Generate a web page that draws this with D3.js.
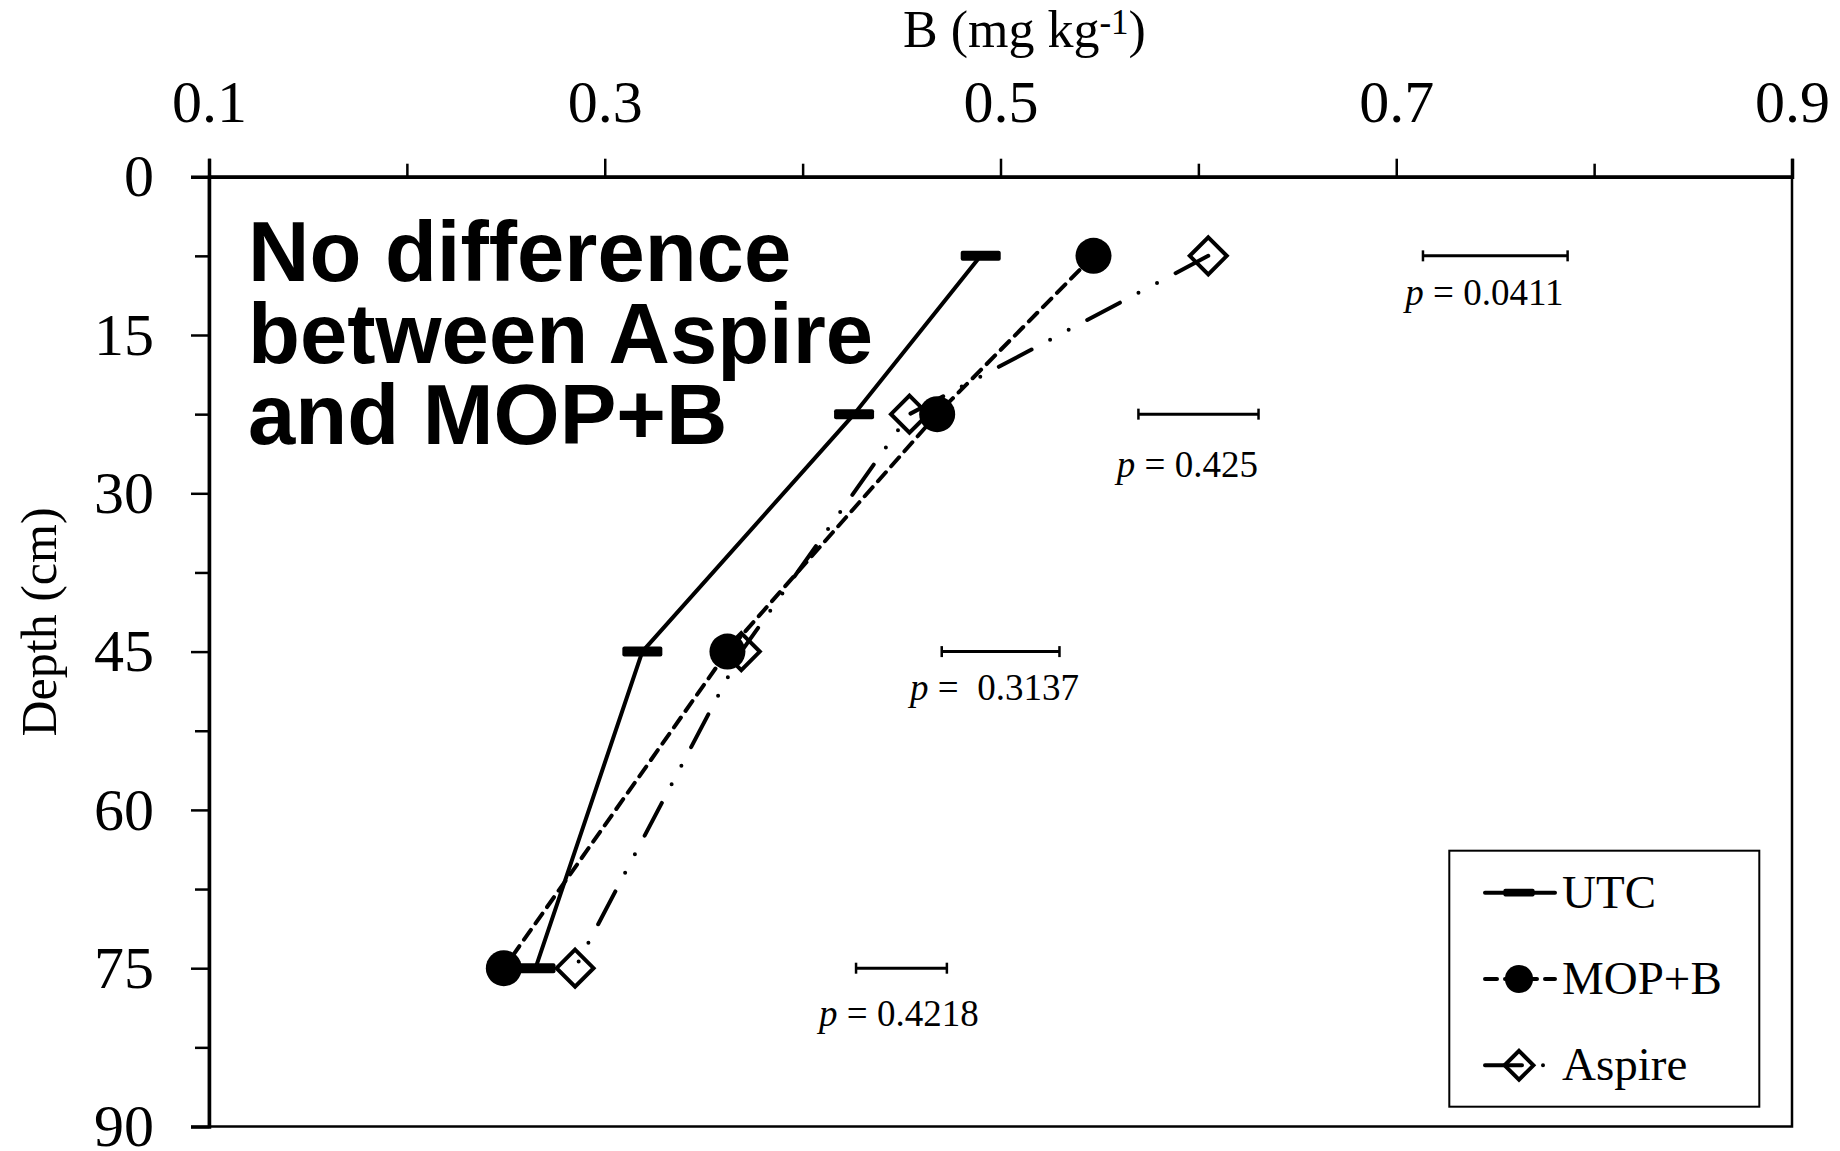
<!DOCTYPE html>
<html>
<head>
<meta charset="utf-8">
<script src="https://cdn.jsdelivr.net/npm/d3@7"></script>
<style>
  body { margin: 0; background: #fff; }
  text { font-family: "Liberation Serif", "Times New Roman", serif; fill: #000; }
</style>
</head>
<body>
<div class="graph"></div>
<script>
// depths sampled (cm) and B concentration per treatment (mg/kg)
const depths = [7.5, 22.5, 45, 75];
const utc = [0.490, 0.426, 0.319, 0.265];
const mopb = [0.547, 0.468, 0.362, 0.249];
const aspire = [0.605, 0.454, 0.369, 0.285];

// LSD-style bars at each depth with their p values
const lsdLow = [0.7135, 0.5697, 0.4703, 0.4270];
const lsdHigh = [0.7866, 0.6304, 0.5298, 0.4729];
const pValues = ["0.0411", "0.425", " 0.3137", "0.4218"];
// where each p label sits (x in mg/kg, depth in cm)
const pLabelX = [0.7046, 0.5588, 0.4543, 0.4083];
const pLabelDepth = [12.15, 28.42, 49.58, 80.46];

const xMajor = [0.1, 0.3, 0.5, 0.7, 0.9];
const xMinor = [0.2, 0.4, 0.6, 0.8];
const yMajor = [0, 15, 30, 45, 60, 75, 90];
const yMinor = [7.5, 22.5, 37.5, 52.5, 67.5, 82.5];

const W = 1840, H = 1151;
const plotL = 209, plotR = 1792, plotT = 176.7, plotB = 1126.5;

const x = d3.scaleLinear().domain([0.1, 0.9]).range([plotL, plotR]);
const y = d3.scaleLinear().domain([0, 90]).range([plotT, plotB]);

const svg = d3.select(".graph").append("svg")
    .attr("width", W)
    .attr("height", H);

// frame
svg.append("rect")
    .attr("x", plotL).attr("y", plotT)
    .attr("width", plotR - plotL).attr("height", plotB - plotT)
    .attr("fill", "none").attr("stroke", "#000").attr("stroke-width", 2.5);

// top axis
const xAxis = svg.append("g")
    .attr("transform", "translate(0," + plotT + ")")
    .call(d3.axisTop(x).tickValues(xMajor).tickFormat(d3.format(".1f")).tickSize(18).tickPadding(37));
svg.append("g")
    .attr("transform", "translate(0," + plotT + ")")
    .call(d3.axisTop(x).tickValues(xMinor).tickFormat("").tickSize(13))
    .select(".domain").remove();
xAxis.selectAll("text").attr("font-size", 60).attr("font-family", "Liberation Serif");

// left axis
const yAxis = svg.append("g")
    .attr("transform", "translate(" + plotL + ",0)")
    .call(d3.axisLeft(y).tickValues(yMajor).tickSize(18).tickPadding(37));
svg.append("g")
    .attr("transform", "translate(" + plotL + ",0)")
    .call(d3.axisLeft(y).tickValues(yMinor).tickFormat("").tickSize(14))
    .select(".domain").remove();
yAxis.selectAll("text").attr("font-size", 60).attr("font-family", "Liberation Serif");

svg.selectAll(".domain").attr("stroke-width", 3.5);
svg.selectAll(".tick line").attr("stroke-width", 2.5);

// axis titles
const title = svg.append("text")
    .attr("x", 903).attr("y", 47)
    .attr("font-size", 52);
title.append("tspan").text("B (mg kg");
title.append("tspan").attr("font-size", 35).attr("dy", -13).text("-1");
title.append("tspan").attr("dy", 13).text(")");

svg.append("text")
    .attr("transform", "translate(56,622) rotate(-90)")
    .attr("text-anchor", "middle")
    .attr("font-size", 50)
    .text("Depth (cm)");

// note
const note = ["No difference", "between Aspire", "and MOP+B"];
svg.selectAll(".note")
    .data(note)
    .enter().append("text")
    .attr("class", "note")
    .attr("x", 248)
    .attr("y", function (d, i) { return 281 + i * 81.5; })
    .attr("font-size", 85)
    .attr("font-weight", "bold")
    .style("font-family", "Liberation Sans, Arial, sans-serif")
    .text(function (d) { return d; });

// LSD bars
const lsd = depths.map(function (d, i) {
    return { depth: d, lo: lsdLow[i], hi: lsdHigh[i], p: pValues[i], lx: pLabelX[i], ld: pLabelDepth[i] };
});
const bars = svg.selectAll(".lsd").data(lsd).enter().append("g").attr("class", "lsd");
bars.append("line")
    .attr("x1", function (d) { return x(d.lo); })
    .attr("x2", function (d) { return x(d.hi); })
    .attr("y1", function (d) { return y(d.depth); })
    .attr("y2", function (d) { return y(d.depth); })
    .attr("stroke", "#000").attr("stroke-width", 3);
["lo", "hi"].forEach(function (k) {
    bars.append("line")
        .attr("x1", function (d) { return x(d[k]); })
        .attr("x2", function (d) { return x(d[k]); })
        .attr("y1", function (d) { return y(d.depth) - 5.5; })
        .attr("y2", function (d) { return y(d.depth) + 5.5; })
        .attr("stroke", "#000").attr("stroke-width", 2.5);
});
const plab = bars.append("text")
    .attr("x", function (d) { return x(d.lx); })
    .attr("y", function (d) { return y(d.ld); })
    .attr("font-size", 37)
    .style("white-space", "pre");
plab.append("tspan").attr("font-style", "italic").text("p");
plab.append("tspan").text(function (d) { return " = " + d.p; });

// series
const series = [
    { name: "UTC", values: utc, dash: null, marker: "bar" },
    { name: "Aspire", values: aspire, dash: "37,21,0,21,0,21", marker: "diamond" },
    { name: "MOP+B", values: mopb, dash: "12,8", marker: "circle" }
];

const line = d3.line()
    .x(function (d) { return x(d.v); })
    .y(function (d) { return y(d.depth); });

function drawMarker(g, type, s) {
    if (type === "bar") {
        g.append("rect")
            .attr("x", -20 * s).attr("y", -5 * s)
            .attr("width", 40 * s).attr("height", 10 * s)
            .attr("rx", 2).attr("fill", "#000");
    } else if (type === "circle") {
        g.append("circle").attr("r", 18 * s).attr("fill", "#000");
    } else {
        const h = 18.5 * s;
        g.append("path")
            .attr("d", "M0," + (-h) + "L" + h + ",0L0," + h + "L" + (-h) + ",0Z")
            .attr("fill", "none").attr("stroke", "#000").attr("stroke-width", 4);
    }
}

series.forEach(function (s) {
    const pts = depths.map(function (d, i) { return { depth: d, v: s.values[i] }; });
    svg.append("path")
        .datum(pts)
        .attr("d", line)
        .attr("fill", "none")
        .attr("stroke", "#000")
        .attr("stroke-width", 4)
        .attr("stroke-linecap", "round")
        .attr("stroke-dasharray", s.dash);
    pts.forEach(function (p) {
        const g = svg.append("g").attr("transform", "translate(" + x(p.v) + "," + y(p.depth) + ")");
        drawMarker(g, s.marker, 1);
    });
});

// legend
const legend = svg.append("g");
legend.append("rect")
    .attr("x", 1449.3).attr("y", 850.7)
    .attr("width", 310).attr("height", 256)
    .attr("fill", "#fff").attr("stroke", "#000").attr("stroke-width", 2);
const legendOrder = [
    { name: "UTC", dash: null, marker: "bar" },
    { name: "MOP+B", dash: "12,8", marker: "circle" },
    { name: "Aspire", dash: "37,21,0,21,0,21", marker: "diamond" }
];
legendOrder.forEach(function (s, i) {
    const ly = 892.7 + i * 86.3;
    legend.append("line")
        .attr("x1", 1485).attr("x2", 1555)
        .attr("y1", ly).attr("y2", ly)
        .attr("stroke", "#000").attr("stroke-width", 4)
        .attr("stroke-linecap", "round")
        .attr("stroke-dasharray", s.dash);
    const g = legend.append("g").attr("transform", "translate(1519," + ly + ")");
    drawMarker(g, s.marker, 0.78);
    legend.append("text")
        .attr("x", 1562).attr("y", ly + 15)
        .attr("font-size", 47)
        .text(s.name);
});
</script>
</body>
</html>
